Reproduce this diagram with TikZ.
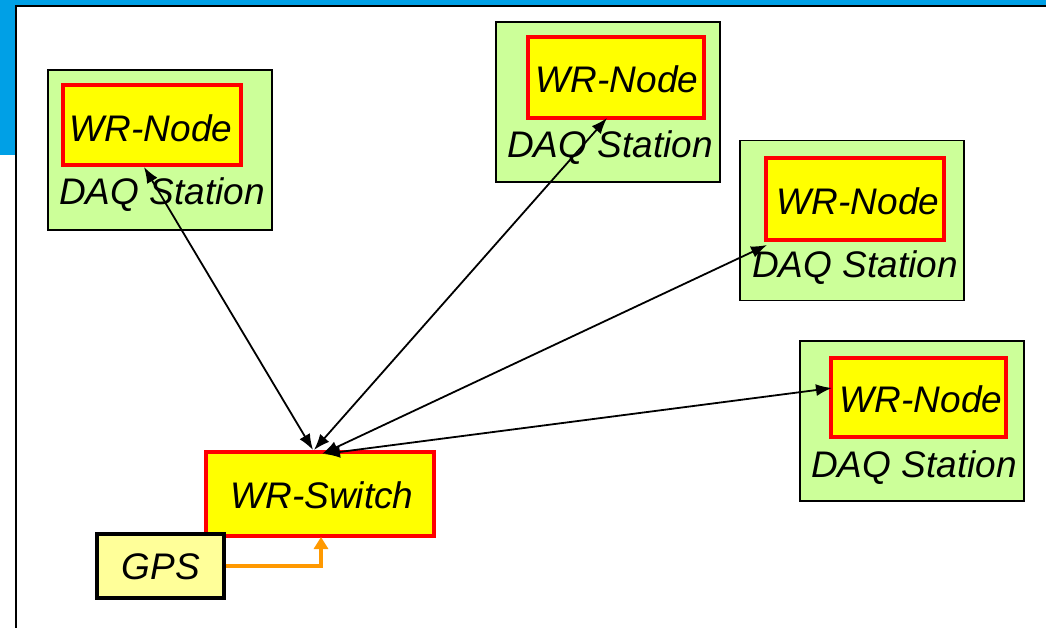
\documentclass[tikz,border=0pt]{standalone}
\usepackage{fontspec}
\setmainfont{Liberation Sans}
\usetikzlibrary{arrows.meta}
\definecolor{slideblue}{HTML}{00A0E6}
\definecolor{daqgreen}{HTML}{CCFF99}
\definecolor{wryellow}{HTML}{FFFF00}
\definecolor{gpsyellow}{HTML}{FFFF99}
\definecolor{wrred}{HTML}{FF0000}
\definecolor{gpsorange}{HTML}{FF9900}
\tikzset{
  daqbox/.style={draw=black, line width=1.8pt, fill=daqgreen, minimum width=224pt, minimum height=160pt, inner sep=0pt},
  wrbox/.style={draw=wrred, line width=4pt, fill=wryellow, inner sep=0pt},
  gpsbox/.style={draw=black, line width=4pt, fill=gpsyellow, minimum width=127pt, minimum height=64pt, inner sep=0pt},
  lbl/.style={font=\fontsize{37}{40}\selectfont\itshape, inner sep=0pt},
  link/.style={line width=1.8pt, {Latex[length=16pt,width=12pt]}-{Latex[length=16pt,width=12pt]}},
  gpslink/.style={draw=gpsorange, line width=3.6pt, -{Triangle[length=12pt,width=14pt]}}
}
\begin{document}
\begin{tikzpicture}[x=1pt,y=-1pt]
\useasboundingbox (0,0) rectangle (1046,628);
\fill[white] (0,0) rectangle (1046,628);
% slide frame
\fill[slideblue] (0,0) rectangle (1046,6);
\fill[slideblue] (0,0) rectangle (16,155);
\draw[line width=2.5pt] (16,628) -- (16,6) -- (1046,6);

% DAQ stations
\node[daqbox] (daq1) at (160,150) {};
\node[daqbox] (daq2) at (608,102) {};
\node[daqbox] (daq3) at (852,220.5) {};
\node[daqbox] (daq4) at (912,421) {};

\node[wrbox, minimum width=178pt, minimum height=80pt] (wr1) at (152,125) {};
\node[wrbox, minimum width=176pt, minimum height=81pt] (wr2) at (616,77.5) {};
\node[wrbox, minimum width=178pt, minimum height=82pt] (wr3) at (855,199) {};
\node[wrbox, minimum width=175pt, minimum height=79pt] (wr4) at (918.5,397.5) {};

\node[lbl] (t1) at (151,128) {WR-Node};
\node[lbl] (t2) at (617,79) {WR-Node};
\node[lbl] (t3) at (858,201) {WR-Node};
\node[lbl] (t4) at (921,399) {WR-Node};

\node[lbl] (d1) at (162,195) {DAQ Station};
\node[lbl] (d2) at (610,148) {DAQ Station};
\node[lbl] (d3) at (855,268) {DAQ Station};
\node[lbl] (d4) at (914,468) {DAQ Station};

% switch and GPS
\node[wrbox, minimum width=228pt, minimum height=84pt] (sw) at (320,494) {};
\node[lbl] (swt) at (322,495) {WR-Switch};
\node[gpsbox] (gps) at (160,566) {};
\node[lbl] (gpst) at (161,567) {GPS};

% connector end points
\coordinate (s1) at (313,450);
\coordinate (s2) at (314,450);
\coordinate (s3) at (322,454);
\coordinate (s4) at (324,454);
\coordinate (n1) at (144,167);
\coordinate (n2) at (607,118);
\coordinate (n3) at (767,245);
\coordinate (n4) at (832,388);
\coordinate (swin) at (321,537);

\draw[link] (s1) -- (n1);
\draw[link] (s2) -- (n2);
\draw[link] (s3) -- (n3);
\draw[link] (s4) -- (n4);

\draw[gpslink] (gps.east) -| (swin);
\end{tikzpicture}
\end{document}
